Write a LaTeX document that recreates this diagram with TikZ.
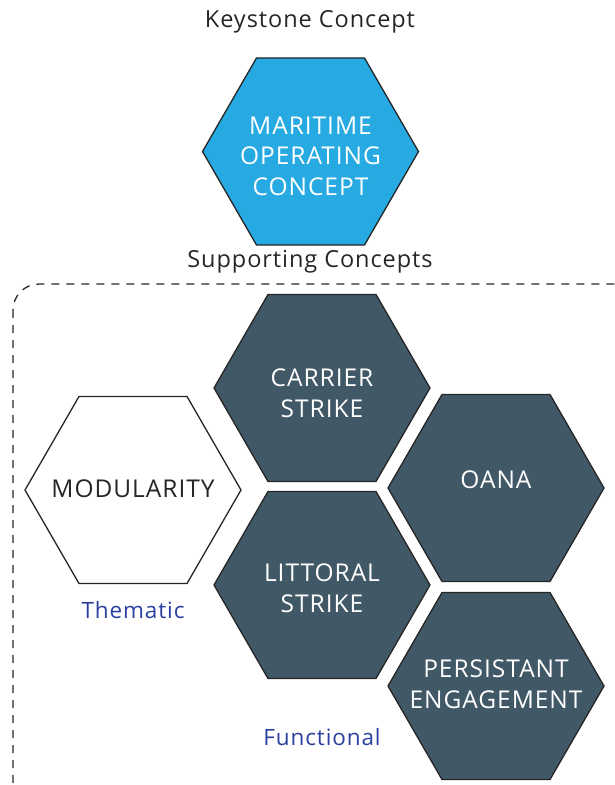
\documentclass[tikz,border=0pt]{standalone}
\usepackage{fontspec}
\setmainfont{Open Sans}
\newfontfamily\widefont[LetterSpace=4]{Open Sans}
\usetikzlibrary{shapes.geometric}
\definecolor{keyblue}{HTML}{27A9E1}
\definecolor{slate}{HTML}{415867}
\definecolor{tagblue}{HTML}{2B3F9E}
% label that does not widen the hexagon
\newcommand{\hexlabel}[2][7pt]{\raisebox{-#1}[\height][\depth]{\makebox[0pt]{\begin{tabular}{@{}c@{}}#2\end{tabular}}}}

\begin{document}
\begin{tikzpicture}[x=1pt,y=-1pt,
  hex/.style={regular polygon, regular polygon sides=6,
    minimum size=216pt, inner sep=0pt, draw=black!85, line width=1.3pt,
    font=\widefont\fontsize{24.5}{30.5}\selectfont},
  keyhex/.style={hex, fill=keyblue, text=white},
  darkhex/.style={hex, fill=slate, text=white},
  plainhex/.style={hex, fill=white, text=black!85},
  heading/.style={font=\widefont\fontsize{23.5}{24}\selectfont, text=black!85},
  tag/.style={font=\widefont\fontsize{22.5}{24}\selectfont, text=tagblue}]
\useasboundingbox (0,0) rectangle (615,785);
\begin{scope}
\clip (0,0) rectangle (615,785);
\draw[black!85, line width=1.3pt, dash pattern=on 8pt off 7pt, rounded corners=26pt]
  (13,284) rectangle (640,820);
\end{scope}

\node [heading] (keytitle) at (310,22) {Keystone Concept};
\node [keyhex] (moc) at (310.5,151.5) {\hexlabel{MARITIME\\OPERATING\\CONCEPT}};
\node [heading] (suptitle) at (310,262) {Supporting Concepts};

\node [darkhex] (carrier) at (322,388) {\hexlabel[8pt]{CARRIER\\STRIKE}};
\node [darkhex] (littoral) at (322,585) {\hexlabel[6pt]{LITTORAL\\STRIKE}};
\node [darkhex] (oana) at (496,488) {\hexlabel[0pt]{OANA\\[12pt]}};
\node [darkhex] (persist) at (496,686) {\hexlabel[1pt]{PERSISTANT\\ENGAGEMENT}};
\node [plainhex] (modular) at (133,490) {\hexlabel[1pt]{MODULARITY}};

\node [tag] (thematic) at (133,610) {Thematic};
\node [tag] (functional) at (322,737) {Functional};
\end{tikzpicture}
\end{document}
